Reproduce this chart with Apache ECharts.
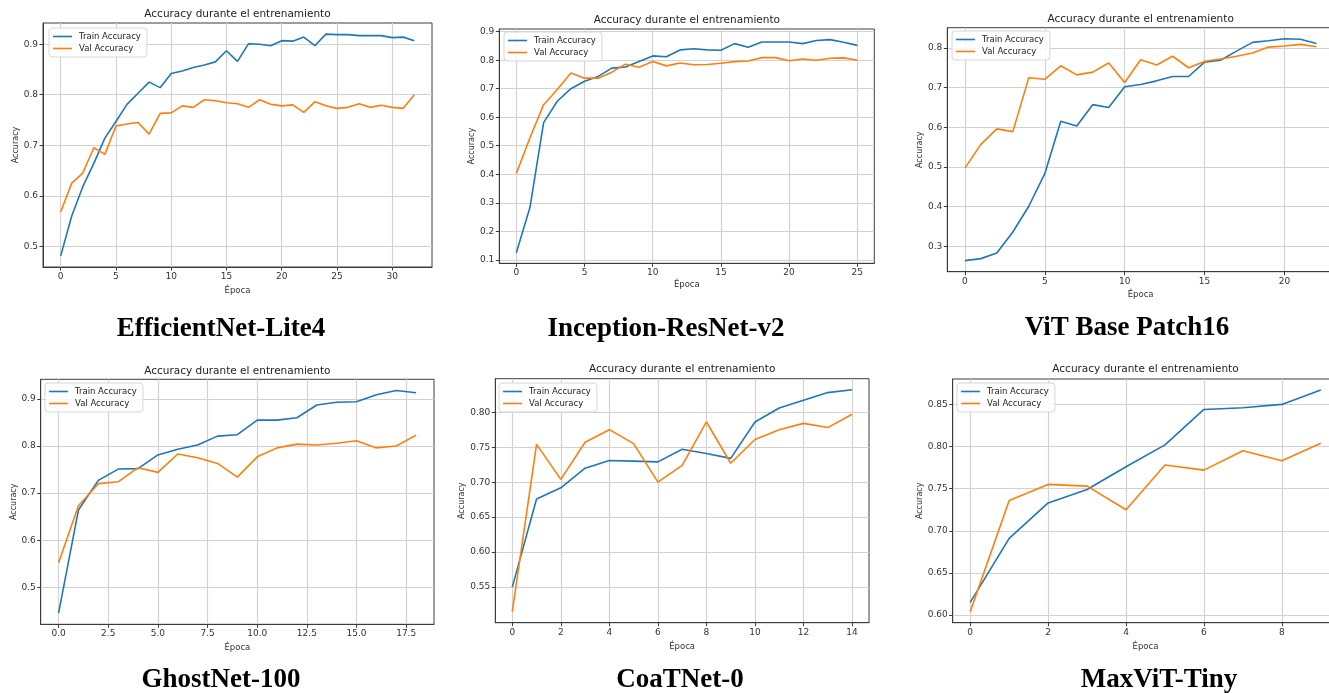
<!DOCTYPE html>
<html><head><meta charset="utf-8">
<script src="https://cdn.jsdelivr.net/npm/echarts@6/dist/echarts.min.js"></script>
<style>html,body{margin:0;padding:0;background:#fff}#c{width:1329px;height:693px}</style>
</head><body><div id="c"></div>
<script>
// ---- data (accuracy per epoch) ----
const effTrain = [0.481,0.560,0.618,0.664,0.714,0.747,0.781,0.803,0.825,0.814,0.842,0.847,0.854,0.859,0.865,0.887,0.866,0.901,0.900,0.897,0.907,0.906,0.914,0.897,0.920,0.919,0.919,0.917,0.917,0.917,0.913,0.914,0.907];
const effVal   = [0.568,0.625,0.645,0.695,0.682,0.738,0.742,0.745,0.722,0.763,0.764,0.778,0.775,0.790,0.788,0.784,0.782,0.775,0.790,0.781,0.778,0.780,0.765,0.786,0.778,0.773,0.775,0.782,0.775,0.779,0.775,0.773,0.800];
const incTrain = [0.125,0.284,0.581,0.656,0.700,0.726,0.743,0.772,0.776,0.795,0.815,0.812,0.836,0.840,0.836,0.835,0.858,0.845,0.864,0.864,0.864,0.858,0.869,0.872,0.863,0.852];
const incVal   = [0.403,0.528,0.644,0.697,0.755,0.737,0.737,0.758,0.786,0.775,0.795,0.780,0.790,0.784,0.785,0.789,0.795,0.797,0.809,0.809,0.798,0.804,0.800,0.807,0.808,0.800];
const vitTrain = [0.264,0.269,0.283,0.336,0.401,0.483,0.615,0.603,0.657,0.650,0.702,0.708,0.717,0.728,0.728,0.764,0.769,0.792,0.814,0.818,0.823,0.822,0.811];
const vitVal   = [0.497,0.557,0.596,0.589,0.725,0.721,0.755,0.732,0.739,0.762,0.713,0.770,0.757,0.779,0.750,0.766,0.772,0.779,0.787,0.802,0.805,0.809,0.803];
const ghoTrain = [0.445,0.664,0.727,0.751,0.752,0.781,0.793,0.802,0.821,0.824,0.855,0.855,0.860,0.887,0.893,0.894,0.909,0.918,0.913];
const ghoVal   = [0.552,0.673,0.720,0.724,0.754,0.744,0.783,0.775,0.763,0.734,0.777,0.796,0.804,0.802,0.806,0.811,0.796,0.800,0.823];
const coaTrain = [0.550,0.676,0.692,0.720,0.731,0.730,0.729,0.747,0.741,0.734,0.786,0.806,0.817,0.828,0.832];
const coaVal   = [0.515,0.754,0.704,0.757,0.775,0.755,0.700,0.724,0.786,0.727,0.761,0.775,0.784,0.778,0.797];
const maxTrain = [0.615,0.691,0.733,0.749,0.776,0.802,0.844,0.846,0.850,0.867];
const maxVal   = [0.604,0.736,0.755,0.753,0.725,0.778,0.772,0.795,0.783,0.804];

// ---- tick labels ----
const effXTicks = [0,5,10,15,20,25,30];
const incXTicks = [0,5,10,15,20,25];
const vitXTicks = [0,5,10,15,20];
const ghoXTicks = [0,2.5,5,7.5,10,12.5,15,17.5];
const ghoXLabels = ['0.0','2.5','5.0','7.5','10.0','12.5','15.0','17.5'];
const coaXTicks = [0,2,4,6,8,10,12,14];
const maxXTicks = [0,2,4,6,8];
const effYTicks = [0.5,0.6,0.7,0.8,0.9];
const incYTicks = [0.1,0.2,0.3,0.4,0.5,0.6,0.7,0.8,0.9];
const vitYTicks = [0.3,0.4,0.5,0.6,0.7,0.8];
const ghoYTicks = [0.5,0.6,0.7,0.8,0.9];
const coaYTicks = [0.55,0.60,0.65,0.70,0.75,0.80];
const coaYLabels = ['0.55','0.60','0.65','0.70','0.75','0.80'];
const maxYTicks = [0.60,0.65,0.70,0.75,0.80,0.85];
const maxYLabels = ['0.60','0.65','0.70','0.75','0.80','0.85'];

const captions = ['EfficientNet-Lite4','Inception-ResNet-v2','ViT Base Patch16','GhostNet-100','CoaTNet-0','MaxViT-Tiny'];
const panelTitle = 'Accuracy durante el entrenamiento';
const seriesNames = ['Train Accuracy','Val Accuracy'];

const panels = [
  {train:effTrain,val:effVal,xT:effXTicks,yT:effYTicks},
  {train:incTrain,val:incVal,xT:incXTicks,yT:incYTicks},
  {train:vitTrain,val:vitVal,xT:vitXTicks,yT:vitYTicks},
  {train:ghoTrain,val:ghoVal,xT:ghoXTicks,xL:ghoXLabels,yT:ghoYTicks},
  {train:coaTrain,val:coaVal,xT:coaXTicks,yT:coaYTicks,yL:coaYLabels},
  {train:maxTrain,val:maxVal,xT:maxXTicks,yT:maxYTicks,yL:maxYLabels}
];

// ---- layout (pixels) ----
const L = [
  {left:43,   top:23,    width:389,   height:244,   titleY:14,    yGap:22, xGap:19, leg:[49,28],   cap:[221,329]},
  {left:499.3,top:29,    width:375,   height:234.3, titleY:20,    yGap:22, xGap:17, leg:[504,32],  cap:[666,329]},
  {left:947.3,top:27.7,  width:386.7, height:244,   titleY:19,    yGap:23, xGap:19, leg:[952,31],  cap:[1127,328]},
  {left:40.7, top:379.3, width:393.3, height:245,   titleY:371,   yGap:23, xGap:19, leg:[45,383],  cap:[221,680]},
  {left:495.3,top:378.7, width:373.7, height:244,   titleY:369.3, yGap:27, xGap:20, leg:[499,383], cap:[680,680]},
  {left:952.7,top:379,   width:385.6, height:243.7, titleY:369.3, yGap:29, xGap:20, leg:[957,383], cap:[1159,680]}
];

const BLUE = '#1f77b4', ORANGE = '#ff7f0e';
const FONT = 'DejaVu Sans';
const grid = [], xAxis = [], yAxis = [], legend = [], series = [], graphic = [];

panels.forEach((p, i) => {
  const l = L[i];
  const n = p.train.length - 1;
  const all = p.train.concat(p.val);
  const lo = Math.min(...all), hi = Math.max(...all), r = hi - lo;
  grid.push({left:l.left, top:l.top, width:l.width, height:l.height, show:true,
    outerBoundsMode:'none', containLabel:false,
    borderColor:'#3c3c3c', borderWidth:1, backgroundColor:'#fff'});
  const fmt = (ticks, labels) => (v) => {
    if (labels) { const k = ticks.findIndex(t => Math.abs(t - v) < 1e-9); if (k >= 0) return labels[k]; }
    return String(v);
  };
  xAxis.push({type:'value', gridIndex:i, min:-0.05*n, max:n*1.05,
    axisLine:{show:true, onZero:false, lineStyle:{color:'#3c3c3c', width:1}},
    axisTick:{show:true, length:3.5, customValues:p.xT, lineStyle:{color:'#3c3c3c'}},
    axisLabel:{customValues:p.xT, formatter:fmt(p.xT, p.xL), fontSize:9, color:'#333', margin:5, fontFamily:FONT},
    splitLine:{show:true, lineStyle:{color:'#d2d2d2', width:1.2}},
    name:'Época', nameLocation:'middle', nameGap:l.xGap,
    nameTextStyle:{fontSize:8.5, color:'#333', fontFamily:FONT}});
  yAxis.push({type:'value', gridIndex:i, min:lo - 0.05*r, max:hi + 0.05*r,
    axisLine:{show:true, onZero:false, lineStyle:{color:'#3c3c3c', width:1}},
    axisTick:{show:true, length:3.5, customValues:p.yT, lineStyle:{color:'#3c3c3c'}},
    axisLabel:{customValues:p.yT, formatter:fmt(p.yT, p.yL), fontSize:9, color:'#333', margin:5, fontFamily:FONT},
    splitLine:{show:true, lineStyle:{color:'#d2d2d2', width:1.2}},
    name:'Accuracy', nameLocation:'middle', nameGap:l.yGap,
    nameTextStyle:{fontSize:8, color:'#333', fontFamily:FONT}});
  legend.push({left:l.leg[0], top:l.leg[1], orient:'vertical', data:seriesNames, icon:'rect',
    itemWidth:19, itemHeight:1.6, itemGap:3, padding:[4,6,4,4], selectedMode:false,
    backgroundColor:'rgba(255,255,255,0.85)', borderColor:'#d6d6d6', borderWidth:1, borderRadius:3,
    textStyle:{fontSize:8.5, color:'#222', fontFamily:FONT, padding:[0,0,0,2]}});
  [[p.train, BLUE, seriesNames[0]], [p.val, ORANGE, seriesNames[1]]].forEach(([d, c, nm]) => {
    series.push({type:'line', name:nm, xAxisIndex:i, yAxisIndex:i, data:d.map((v, k) => [k, v]),
      showSymbol:false, color:c, lineStyle:{color:c, width:1.6}, clip:true});
  });
  graphic.push({type:'text', x:l.left + l.width/2, y:l.titleY,
    style:{text:panelTitle, fontSize:10.5, fontFamily:FONT, fill:'#222', textAlign:'center', textVerticalAlign:'middle'}});
  graphic.push({type:'text', x:l.cap[0], y:l.cap[1],
    style:{text:captions[i], fontSize:27, fontWeight:'bold', fontFamily:'Liberation Serif', fill:'#000', textAlign:'center', textVerticalAlign:'middle'}});
});

const chart = echarts.init(document.getElementById('c'), null, {renderer:'canvas'});
chart.setOption({backgroundColor:'#fff', animation:false, grid, xAxis, yAxis, legend, series, graphic});
</script>
</body></html>
